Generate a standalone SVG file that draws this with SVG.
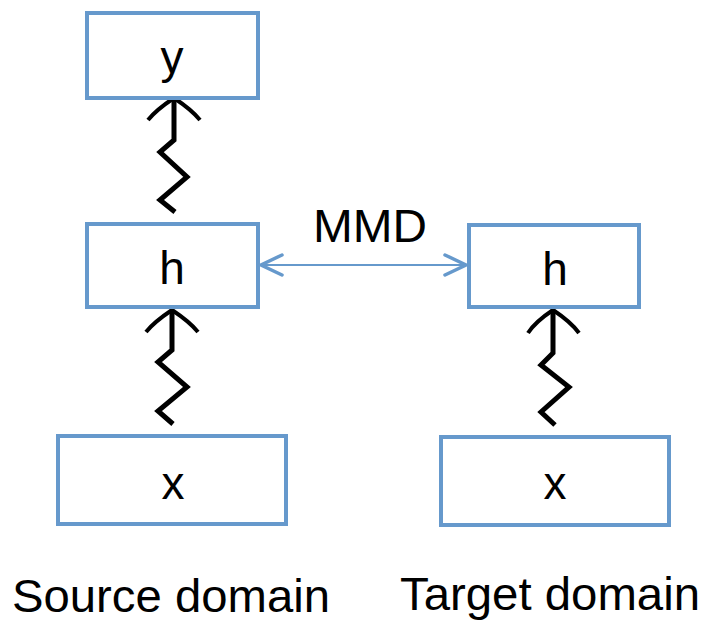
<svg xmlns="http://www.w3.org/2000/svg" width="708" height="622" viewBox="0 0 708 622">
<style>
.box{fill:#fff;stroke:#6699CC;stroke-width:4}
.t{font-family:"Liberation Sans",Arial,sans-serif;font-size:46px;fill:#000;text-anchor:middle}
.lbl{font-family:"Liberation Sans",Arial,sans-serif;font-size:46px;fill:#000}
.zz{fill:none;stroke:#000;stroke-width:5;stroke-linejoin:miter;stroke-linecap:butt}
.hd{fill:none;stroke:#000;stroke-width:4;stroke-linecap:butt;stroke-linejoin:miter}
.mmd{fill:none;stroke:#6699CC;stroke-width:2}
.ch{fill:none;stroke:#6699CC;stroke-width:3.5;stroke-linecap:round;stroke-linejoin:miter}
</style>
<rect width="708" height="622" fill="#fff"/>
<g id="connectors">
  <g id="src-h-y">
    <path class="zz" d="M174,100 L174,140 L160,152 L187,177 L160,200 L175,212"/>
    <path class="hd" d="M148,120 Q156,110 174,98 Q192,110 200,120"/>
  </g>
  <g id="src-x-h">
    <path class="zz" d="M172,312 L172,350 L158,362 L187,387 L158,411 L173,424"/>
    <path class="hd" d="M146,332 Q154,322 172,310 Q190,322 198,332"/>
  </g>
  <g id="tgt-x-h">
    <path class="zz" d="M553,312 L553,353 L541,365 L569,387 L541,412 L555,425"/>
    <path class="hd" d="M528,333 Q535,322 553,310 Q571,322 579,333"/>
  </g>
  <g id="mmd">
    <path class="mmd" d="M261,265 L466,265"/>
    <path class="ch" d="M282,255 L261,265 L282,275"/>
    <path class="ch" d="M445,255 L466,265 L445,275"/>
  </g>
</g>
<g id="node-y"><rect class="box" x="87" y="13" width="171" height="85"/><text class="t" x="172" y="73">y</text></g>
<g id="node-src-h"><rect class="box" x="87" y="224" width="171" height="83"/><text class="t" x="172" y="284">h</text></g>
<g id="node-src-x"><rect class="box" x="58" y="436" width="228" height="88"/><text class="t" x="173" y="499">x</text></g>
<g id="node-tgt-h"><rect class="box" x="469" y="225" width="170" height="82"/><text class="t" x="555" y="285">h</text></g>
<g id="node-tgt-x"><rect class="box" x="441" y="437" width="228" height="88"/><text class="t" x="555" y="499">x</text></g>
<text class="lbl" x="313" y="242" textLength="114" lengthAdjust="spacingAndGlyphs">MMD</text>
<text class="lbl" x="12" y="612" textLength="318" lengthAdjust="spacingAndGlyphs">Source domain</text>
<text class="lbl" x="400" y="610" textLength="300" lengthAdjust="spacingAndGlyphs">Target domain</text>
</svg>
